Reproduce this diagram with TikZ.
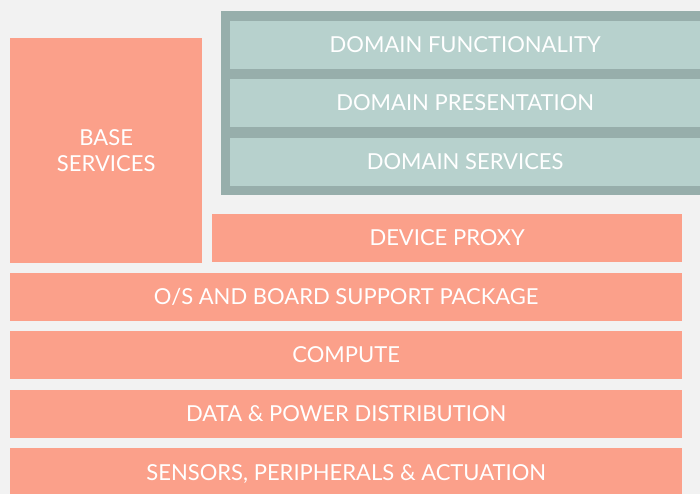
\documentclass[tikz,border=0pt]{standalone}
\usepackage{fontspec}
\setmainfont{Lato}
\definecolor{bgc}{HTML}{F2F2F2}
\definecolor{salmon}{HTML}{FBA08A}
\definecolor{tealdark}{HTML}{97AEAB}
\definecolor{teallight}{HTML}{B7D1CD}
\tikzset{
  basefont/.style={text=white, font=\fontsize{22}{26}\selectfont, inner sep=0pt, draw=none},
  oneline/.style={text height=15.8pt, text depth=0pt},
  layer/.style={basefont, oneline, fill=salmon},
  dlayer/.style={basefont, oneline, fill=teallight},
}
\begin{document}
\begin{tikzpicture}[x=1pt,y=1pt]
\fill[bgc] (0,0) rectangle (700,494);
\useasboundingbox (0,0) rectangle (700,494);
% domain group
\node[fill=tealdark, draw=none, inner sep=0pt, minimum width=480pt, minimum height=184pt, anchor=south west] (dom) at (221,299) {};
\node[dlayer, minimum width=470pt, minimum height=48pt, anchor=south west] (df) at (230,425) {DOMAIN FUNCTIONALITY};
\node[dlayer, minimum width=470pt, minimum height=48pt, anchor=south west] (dp) at (230,367) {DOMAIN PRESENTATION};
\node[dlayer, minimum width=470pt, minimum height=48pt, anchor=south west] (ds) at (230,308) {DOMAIN SERVICES};
% base services
\node[basefont, fill=salmon, align=center, minimum width=192pt, minimum height=225pt, anchor=south west] (base) at (10,231) {BASE\\SERVICES};
% device proxy
\node[layer, minimum width=470pt, minimum height=48pt, anchor=south west] (dev) at (212,232) {DEVICE PROXY};
% full-width layers
\node[layer, minimum width=672pt, minimum height=48pt, anchor=south west] (os) at (10,173) {O/S AND BOARD SUPPORT PACKAGE};
\node[layer, minimum width=672pt, minimum height=48pt, anchor=south west] (comp) at (10,115) {COMPUTE};
\node[layer, minimum width=672pt, minimum height=48pt, anchor=south west] (data) at (10,56) {DATA \& POWER DISTRIBUTION};
\node[layer, minimum width=672pt, minimum height=50pt, anchor=south west] (sens) at (10,-4) {SENSORS, PERIPHERALS \& ACTUATION};
\end{tikzpicture}
\end{document}
